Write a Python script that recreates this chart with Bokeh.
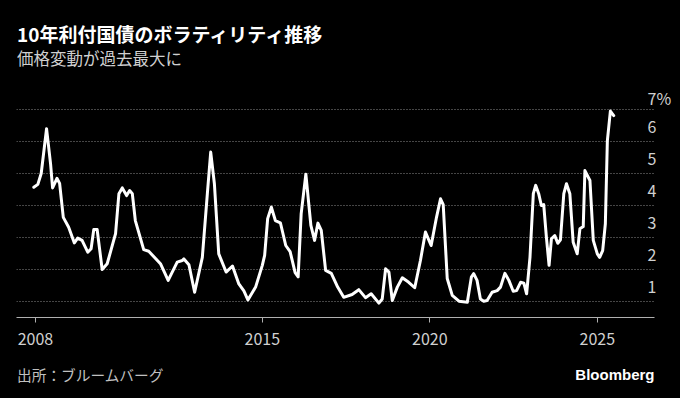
from bokeh.plotting import figure
from bokeh.layouts import column
from bokeh.models import Range1d, LinearAxis, FixedTicker, Label, ColumnDataSource, Grid
from bokeh.embed import file_html
from bokeh.resources import INLINE

title_text = "10年利付国債のボラティリティ推移"
subtitle_text = "価格変動が過去最大に"
source_text = "出所：ブルームバーグ"
brand_text = "Bloomberg"

# decimal year, volatility (%)
t = [2008.18, 2008.30, 2008.40, 2008.56, 2008.68, 2008.74, 2008.87, 2008.95,
     2009.06, 2009.22, 2009.39, 2009.49, 2009.62, 2009.79, 2009.89, 2009.97,
     2010.07, 2010.22, 2010.37, 2010.62, 2010.72, 2010.82, 2010.95, 2011.04,
     2011.12, 2011.21, 2011.46, 2011.61, 2011.96, 2012.19, 2012.46, 2012.61,
     2012.66, 2012.81, 2012.98, 2013.21, 2013.36, 2013.46, 2013.57, 2013.70,
     2013.92, 2014.11, 2014.30, 2014.45, 2014.57, 2014.80, 2015.00, 2015.07,
     2015.16, 2015.27, 2015.39, 2015.54, 2015.70, 2015.83, 2015.98, 2016.07,
     2016.16, 2016.30, 2016.45, 2016.56, 2016.66, 2016.76, 2016.89, 2017.06,
     2017.25, 2017.43, 2017.68, 2017.88, 2018.08, 2018.25, 2018.48, 2018.58,
     2018.68, 2018.78, 2018.88, 2019.03, 2019.18, 2019.37, 2019.55, 2019.72,
     2019.87, 2020.04, 2020.20, 2020.32, 2020.40, 2020.52, 2020.67, 2020.87,
     2021.12, 2021.24, 2021.31, 2021.41, 2021.51, 2021.61, 2021.71, 2021.86,
     2022.01, 2022.11, 2022.24, 2022.36, 2022.49, 2022.59, 2022.71, 2022.81,
     2022.89, 2022.99, 2023.09, 2023.16, 2023.25, 2023.33, 2023.40, 2023.48,
     2023.56, 2023.63, 2023.73, 2023.82, 2023.90, 2024.00, 2024.08, 2024.18,
     2024.28, 2024.40, 2024.48, 2024.58, 2024.63, 2024.78, 2024.88, 2025.00,
     2025.07, 2025.16, 2025.24, 2025.30, 2025.39, 2025.49]
vol = [4.57, 4.66, 5.00, 6.40, 5.30, 4.55, 4.85, 4.69,
       3.63, 3.32, 2.83, 2.98, 2.91, 2.54, 2.65, 3.25,
       3.25, 2.00, 2.18, 3.12, 4.37, 4.55, 4.31, 4.47,
       4.37, 3.53, 2.62, 2.57, 2.18, 1.66, 2.23, 2.28,
       2.33, 2.15, 1.29, 2.38, 4.37, 5.67, 4.68, 2.49,
       1.92, 2.11, 1.55, 1.33, 1.05, 1.45, 2.13, 2.44,
       3.59, 3.95, 3.53, 3.46, 2.75, 2.56, 1.90, 1.77,
       3.74, 4.98, 3.38, 2.91, 3.45, 3.22, 1.97, 1.88,
       1.45, 1.13, 1.22, 1.37, 1.12, 1.24, 0.95, 1.08,
       2.02, 1.92, 1.03, 1.45, 1.74, 1.60, 1.43, 2.28,
       3.17, 2.75, 3.63, 4.21, 4.03, 1.72, 1.19, 1.01,
       0.98, 1.76, 1.87, 1.66, 1.08, 1.01, 1.03, 1.29,
       1.34, 1.45, 1.88, 1.66, 1.32, 1.34, 1.60, 1.57,
       1.24, 2.38, 4.37, 4.63, 4.37, 4.00, 4.03, 3.01,
       2.13, 2.96, 3.06, 2.82, 2.93, 4.37, 4.68, 4.37,
       2.85, 2.49, 3.27, 3.34, 5.09, 4.78, 2.91, 2.49,
       2.38, 2.59, 3.43, 6.03, 6.95, 6.81]

ytick_vals = [1, 2, 3, 4, 5, 6, 7]
ytick_labels = ["1", "2", "3", "4", "5", "6", "7%"]
xtick_pos = [2008.23, 2015, 2020, 2025]
xtick_labels = ["2008", "2015", "2020", "2025"]

FONT = "Noto Sans CJK JP"
W = 680
HEAD_H, MAIN_H, FOOT_H = 85, 272, 41
MAIN_BOTTOM = 40
LEFT, RIGHT = 16, 654          # frame edges in pixels (shared by all rows)
X0, X1 = 2007.663, 2026.707
Y0, Y1 = 0.5, 7.75
LABEL_SHIFT = 0.48


def blank(h):
    # x data units == page pixels, y data units == pixels from the bottom
    f = figure(width=W, height=h, output_backend="svg", toolbar_location=None,
               x_range=Range1d(LEFT, RIGHT), y_range=Range1d(0, h),
               x_axis_location=None, y_axis_location=None,
               min_border_left=LEFT, min_border_right=W - RIGHT,
               min_border_top=0, min_border_bottom=0,
               background_fill_color="black", border_fill_color="black",
               outline_line_color=None)
    for g in f.grid:
        g.visible = False
    return f


# header
head = blank(HEAD_H)
head.add_layout(Label(x=16.5, y=HEAD_H - 33, text=title_text,
                      text_font=FONT, text_font_size="19px", text_font_style="bold",
                      text_color="white", text_baseline="middle"))
head.add_layout(Label(x=16.5, y=HEAD_H - 57, text=subtitle_text,
                      text_font=FONT, text_font_size="16.5px",
                      text_color="#d0d0d0", text_baseline="middle"))

# main chart
src = ColumnDataSource(data=dict(t=t, vol=vol))
p = figure(width=W, height=MAIN_H, output_backend="svg", toolbar_location=None,
           x_range=Range1d(X0, X1), y_range=Range1d(Y0, Y1),
           min_border_left=LEFT, min_border_right=W - RIGHT, min_border_top=0,
           min_border_bottom=MAIN_BOTTOM,
           background_fill_color="black", border_fill_color="black",
           outline_line_color=None, y_axis_location=None)
for g in p.grid:
    g.visible = False

grid = Grid(dimension=1, ticker=FixedTicker(ticks=ytick_vals),
            grid_line_color="#8a8a8a", grid_line_dash="1 2", grid_line_width=1)
p.add_layout(grid, "center")

p.line(x="t", y="vol", source=src, line_color="white", line_width=3,
       line_join="round", line_cap="round")

xa = p.xaxis[0]
xa.ticker = FixedTicker(ticks=xtick_pos)
xa.major_label_overrides = {k: v for k, v in zip(xtick_pos, xtick_labels)}
xa.axis_line_color = "#b0b0b0"
xa.major_tick_line_color = "#b0b0b0"
xa.major_tick_out = 5
xa.major_tick_in = 0
xa.minor_tick_line_color = None
xa.major_label_standoff = 10
xa.major_label_text_font = FONT
xa.major_label_text_font_size = "16px"
xa.major_label_text_color = "#d0d0d0"

p.extra_y_ranges = {"lab": Range1d(Y0 - LABEL_SHIFT, Y1 - LABEL_SHIFT)}
ya = LinearAxis(y_range_name="lab", ticker=FixedTicker(ticks=ytick_vals),
                major_label_overrides={k: v for k, v in zip(ytick_vals, ytick_labels)},
                axis_line_color=None, major_tick_line_color=None, minor_tick_line_color=None,
                major_tick_out=0, major_tick_in=0, major_label_standoff=-7,
                major_label_text_font=FONT, major_label_text_font_size="16px",
                major_label_text_color="#d0d0d0")
p.add_layout(ya, "right")

# footer
foot = blank(FOOT_H)
foot.add_layout(Label(x=16.5, y=FOOT_H - 17, text=source_text,
                      text_font=FONT, text_font_size="14.7px",
                      text_color="#c0c0c0", text_baseline="middle"))
foot.add_layout(Label(x=RIGHT, y=FOOT_H - 17, text=brand_text,
                      text_font="Liberation Sans", text_font_size="15px", text_font_style="bold",
                      text_color="white", text_baseline="middle", text_align="right"))

layout = column(head, p, foot, spacing=0)

html = file_html(layout, INLINE)
html = html.replace("<head>", "<head><style>html,body{background:#000;}</style>", 1)
open("out.html", "w").write(html)
